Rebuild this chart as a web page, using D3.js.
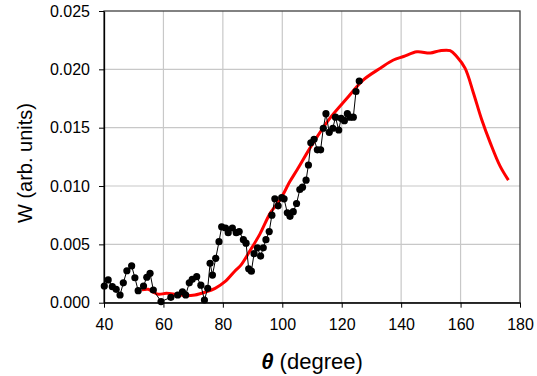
<!DOCTYPE html>
<meta charset="utf-8">
<style>
body { margin: 0; background: #fff; }
svg { font-family: "Liberation Sans", Arial, sans-serif; }
.grid line { stroke: #c8c8c8; stroke-width: 1.2px; }
.axis path, .axis line { stroke: #000; }
.axis text { font-size: 16px; fill: #000; font-family: "Liberation Sans", Arial, sans-serif; }
</style>
<svg width="537" height="376"></svg>
<script src="https://cdn.jsdelivr.net/npm/d3@7"></script>
<script>

// measured points (black)
var dataTheta = [40.1, 41.4, 42.8, 44.1, 45.4, 46.5, 47.7, 49.3, 50.4, 51.5, 53.3, 54.4, 55.5, 56.6,
  59.2, 62.5, 64.8, 66.4, 67.5, 68.7, 69.7, 71.2, 72.6, 73.8, 74.9, 75.7, 76.5, 77.6, 78.7, 79.6,
  80.9, 81.8, 83.2, 84.5, 85.5, 86.9, 87.8, 88.7, 89.6, 90.5, 91.6, 92.7, 93.6, 94.5, 95.6, 96.5,
  97.5, 98.6, 99.8, 100.6, 101.7, 102.6, 103.7, 104.8, 105.9, 106.8, 108.0, 108.8, 109.6, 110.7,
  111.8, 112.9, 113.8, 114.7, 115.8, 117.0, 117.9, 119.0, 119.8, 120.9, 121.9, 122.8, 123.9, 124.8, 125.9];
var dataW = [0.00143, 0.00195, 0.00137, 0.00115, 0.00066, 0.0017, 0.00274, 0.00315, 0.00214, 0.00103, 0.00143, 0.00218, 0.00252, 0.00109,
  0.0001, 0.00046, 0.00066, 0.00094, 0.00066, 0.0017, 0.002, 0.00223, 0.0015, 0.00023, 0.00123, 0.00338, 0.00237, 0.0038, 0.00523, 0.0065,
  0.0064, 0.006, 0.0064, 0.006, 0.0061, 0.0054, 0.0051, 0.0029, 0.0027, 0.0042, 0.0047, 0.004, 0.0047, 0.0054, 0.0061, 0.0075,
  0.0089, 0.0083, 0.009, 0.0089, 0.0077, 0.0074, 0.0078, 0.0085, 0.0097, 0.0099, 0.0105, 0.0118, 0.0137, 0.014,
  0.0131, 0.0131, 0.01495, 0.0162, 0.0146, 0.01495, 0.0159, 0.0148, 0.0158, 0.0156, 0.0162, 0.0159, 0.0159, 0.0181, 0.019];

// calculated curve (red)
var calcTheta = [52.7, 54.9, 56.6, 58.3, 61.0, 64.0, 67.3, 70.6, 74.0, 77.4, 80.7, 84.0, 86.0, 89.0, 92.5, 96.0,
  99.2, 102.6, 105.0, 110.4, 116.0, 121.7, 127.3, 133.0, 137.4, 140.8, 145.3, 149.8, 153.1, 156.5, 158.7,
  161.5, 164.3, 167.1, 170.0, 173.3, 176.1];
var calcW = [0.0011, 0.00115, 0.0009, 0.00072, 0.0008, 0.00072, 0.0006, 0.00066, 0.0009, 0.00123, 0.0018, 0.0027, 0.0032, 0.0044, 0.0059, 0.0077,
  0.0088, 0.0104, 0.0114, 0.0137, 0.0158, 0.0175, 0.0191, 0.0201, 0.0208, 0.0211, 0.0215, 0.0214, 0.0216, 0.0216, 0.0211,
  0.0201, 0.018, 0.0157, 0.0137, 0.0117, 0.0105];

var xTicks = [40, 60, 80, 100, 120, 140, 160, 180];
var yTicks = [0, 0.005, 0.01, 0.015, 0.02, 0.025];

var svg = d3.select("svg"),
    plotLeft = 104, plotRight = 520, plotTop = 11, plotBottom = 302.7;

var x = d3.scaleLinear().domain([40, 180]).range([plotLeft, plotRight]);
var y = d3.scaleLinear().domain([0, 0.025]).range([plotBottom, plotTop]);

// grid
var grid = svg.append("g").attr("class", "grid");
grid.selectAll(".gx").data(xTicks.slice(1, -1)).enter().append("line")
    .attr("x1", x).attr("x2", x).attr("y1", plotTop).attr("y2", plotBottom);
grid.selectAll(".gy").data(yTicks.slice(1, -1)).enter().append("line")
    .attr("y1", y).attr("y2", y).attr("x1", plotLeft).attr("x2", plotRight);

// frame
svg.append("rect")
    .attr("x", plotLeft).attr("y", plotTop)
    .attr("width", plotRight - plotLeft).attr("height", plotBottom - plotTop)
    .attr("fill", "none").attr("stroke", "#404040").attr("stroke-width", 1.3);

svg.append("clipPath").attr("id", "clip").append("rect")
    .attr("x", plotLeft - 6).attr("y", plotTop)
    .attr("width", plotRight - plotLeft + 12).attr("height", plotBottom - plotTop + 6);

var plot = svg.append("g").attr("clip-path", "url(#clip)");

// red curve
var calc = calcTheta.map(function(t, i) { return [t, calcW[i]]; });
plot.append("path")
    .datum(calc)
    .attr("fill", "none")
    .attr("stroke", "#ff0000")
    .attr("stroke-width", 3)
    .attr("stroke-linejoin", "round")
    .attr("d", d3.line().x(function(d) { return x(d[0]); }).y(function(d) { return y(d[1]); })
      .curve(d3.curveCatmullRom));

// black data
var meas = dataTheta.map(function(t, i) { return [t, dataW[i]]; });
plot.append("path")
    .datum(meas)
    .attr("fill", "none")
    .attr("stroke", "#000")
    .attr("stroke-width", 1)
    .attr("d", d3.line().x(function(d) { return x(d[0]); }).y(function(d) { return y(d[1]); }));

plot.selectAll(".pt").data(meas).enter().append("circle")
    .attr("cx", function(d) { return x(d[0]); })
    .attr("cy", function(d) { return y(d[1]); })
    .attr("r", 3.6)
    .attr("fill", "#000");

// axes
svg.append("g")
    .attr("class", "axis")
    .attr("transform", "translate(0," + plotBottom + ")")
    .call(d3.axisBottom(x).tickValues(xTicks).tickSize(5).tickPadding(11).tickSizeOuter(0))
    .call(function(g) { g.select(".domain").attr("stroke-width", 1.3); });

svg.append("g")
    .attr("class", "axis")
    .attr("transform", "translate(" + plotLeft + ",0)")
    .call(d3.axisLeft(y).tickValues(yTicks).tickFormat(d3.format(".3f")).tickSize(5).tickPadding(9).tickSizeOuter(0))
    .call(function(g) { g.select(".domain").attr("stroke-width", 1.3); });

// labels
var xl = svg.append("text")
    .attr("x", 312).attr("y", 369)
    .attr("text-anchor", "middle")
    .attr("font-size", 22);
xl.append("tspan").attr("font-weight", "bold").attr("font-style", "italic").text("θ");
xl.append("tspan").text(" (degree)");

svg.append("text")
    .attr("transform", "translate(32,163) rotate(-90)")
    .attr("text-anchor", "middle")
    .attr("font-size", 20)
    .text("W (arb. units)");

</script>
